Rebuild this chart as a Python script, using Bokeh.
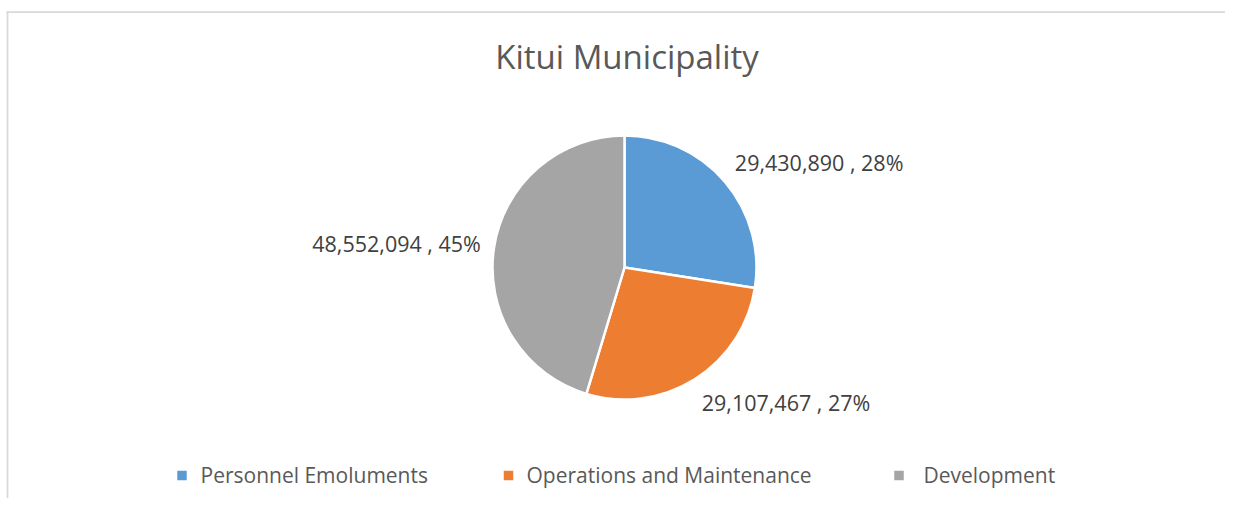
import math
from bokeh.plotting import figure
from bokeh.models import Range1d
from bokeh.core.properties import value
from bokeh.embed import file_html
from bokeh.resources import INLINE

# ---- data ----
title = "Kitui Municipality"
categories = ["Personnel Emoluments", "Operations and Maintenance", "Development"]
amounts = [29430890, 29107467, 48552094]
colors = ["#5B9BD5", "#ED7D31", "#A5A5A5"]

# ---- layout (image pixel coordinates) ----
W, H = 1225, 498
def Y(img_y):
    return H - img_y

cx, cy, r = 624, 267, 132
label_r = 1.1 * r
legend_sq_x = [181.5, 508, 898.5]
legend_tx_x = [200, 526, 923]
legend_y = 474
FONT = "Open Sans"

p = figure(width=W, height=H, output_backend="svg", toolbar_location=None,
           x_range=Range1d(0, W), y_range=Range1d(0, H),
           min_border=0, outline_line_color=None)
p.axis.visible = False
p.xgrid.visible = False
p.ygrid.visible = False
p.background_fill_color = "white"
p.border_fill_color = "white"

# chart frame (top and left edges visible in the crop)
p.segment(x0=[6, 7], y0=[Y(11.6), Y(11)], x1=[W, 7], y1=[Y(11.6), Y(H)],
          line_color="#d9d9d9", line_width=1.8)

# pie
total = float(sum(amounts))
fracs = [a / total for a in amounts]
cum = [0.0]
for f in fracs:
    cum.append(cum[-1] + f)
starts = [math.pi / 2 - 2 * math.pi * cum[i + 1] for i in range(len(amounts))]
ends = [math.pi / 2 - 2 * math.pi * cum[i] for i in range(len(amounts))]
p.wedge(x=[cx] * 3, y=[Y(cy)] * 3, radius=r, start_angle=starts, end_angle=ends,
        fill_color=colors, line_color="white", line_width=2.5)

# percentages (largest remainder so they sum to 100)
raw = [f * 100 for f in fracs]
pcts = [int(math.floor(v)) for v in raw]
order = sorted(range(len(raw)), key=lambda i: raw[i] - pcts[i], reverse=True)
for i in order[: 100 - sum(pcts)]:
    pcts[i] += 1

# data labels
for i, a in enumerate(amounts):
    th = 2 * math.pi * (cum[i] + fracs[i] / 2)
    ax = cx + label_r * math.sin(th)
    ay = cy - label_r * math.cos(th)
    center_y = ay - 15 * math.cos(th)
    base_y = center_y - 1
    txt = f"{a:,} , {pcts[i]}%"
    p.text(x=[ax], y=[Y(base_y)], text=[txt], text_font=value(FONT),
           text_font_size="21.5px", text_color="#404040",
           text_align="left" if math.sin(th) > 0 else "right",
           text_baseline="alphabetic")

# title
p.text(x=[626.5], y=[Y(56)], text=[title], text_font=value(FONT),
       text_font_size="33px", text_color="#595959", text_align="center",
       text_baseline="alphabetic")

# legend
p.scatter(x=legend_sq_x, y=[Y(475)] * 3, marker="square", size=9.5,
          fill_color=colors, line_color=None)
p.text(x=legend_tx_x, y=[Y(legend_y)] * 3, text=categories, text_font=value(FONT),
       text_font_size="21px", text_color="#595959", text_align="left",
       text_baseline="alphabetic")

open("out.html", "w").write(file_html(p, INLINE))
